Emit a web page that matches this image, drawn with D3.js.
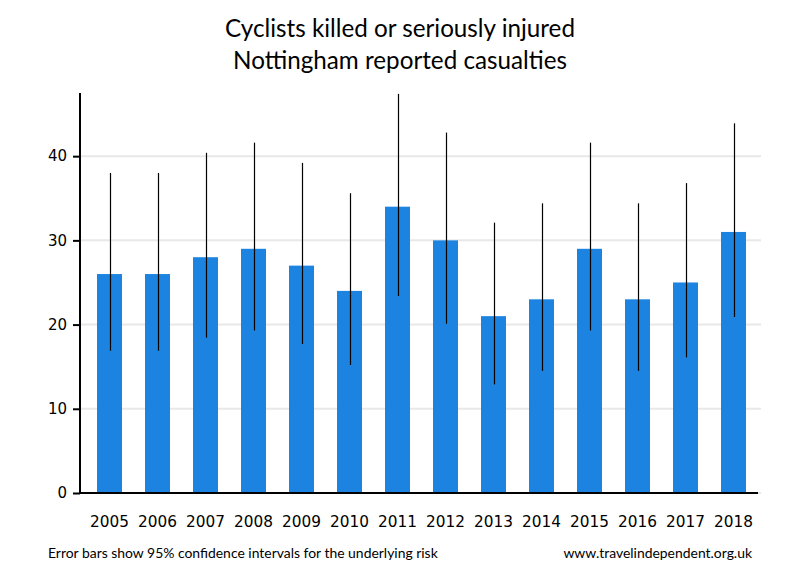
<!DOCTYPE html>
<html><head><meta charset="utf-8">
<script src="https://cdn.jsdelivr.net/npm/d3@7"></script>
<style>body{margin:0;background:#fff}svg{display:block}</style>
</head><body>
<svg id="chart" width="800" height="580"></svg>
<script>
const years = ["2005","2006","2007","2008","2009","2010","2011","2012","2013","2014","2015","2016","2017","2018"];
const casualties = [26,26,28,29,27,24,34,30,21,23,29,23,25,31];
const ciLower = [16.9,16.9,18.45,19.3,17.7,15.2,23.4,20.1,12.9,14.5,19.3,14.5,16.1,20.9];
const ciUpper = [38.0,38.0,40.4,41.6,39.2,35.6,47.4,42.8,32.1,34.4,41.6,34.4,36.8,43.9];
const yTicks = [0,10,20,30,40];
const titleLines = ["Cyclists killed or seriously injured","Nottingham reported casualties"];
const footLeft = "Error bars show 95% confidence intervals for the underlying risk";
const footRight = "www.travelindependent.org.uk";

const svg = d3.select("#chart");
const font = "Lato, 'Open Sans', sans-serif";

const x = d3.scaleBand().domain(years).range([80, 763]).paddingInner(23/48).paddingOuter(17/48);
const y = d3.scaleLinear().domain([0, 47.5]).range([493, 93]);

// gridlines
svg.append("g").selectAll("line").data(yTicks).join("line")
  .attr("x1", 80).attr("x2", 761)
  .attr("y1", d => y(d)).attr("y2", d => y(d))
  .attr("stroke", "#e8e8e8").attr("stroke-width", 2);

// bars
svg.append("g").selectAll("rect").data(years).join("rect")
  .attr("x", d => x(d)).attr("width", x.bandwidth())
  .attr("y", (d,i) => y(casualties[i])).attr("height", (d,i) => y(0) - y(casualties[i]))
  .attr("fill", "#1c83e1");

// error bars
svg.append("g").selectAll("line").data(years).join("line")
  .attr("x1", d => Math.round(x(d) + x.bandwidth()/2) + 0.5)
  .attr("x2", d => Math.round(x(d) + x.bandwidth()/2) + 0.5)
  .attr("y1", (d,i) => y(ciLower[i])).attr("y2", (d,i) => y(ciUpper[i]))
  .attr("stroke", "#000").attr("stroke-width", 1.2);

// y axis
const yAxis = d3.axisLeft(y).tickValues(yTicks).tickSize(7).tickPadding(6);
const gy = svg.append("g").attr("transform", "translate(80,0)").call(yAxis);
gy.select(".domain").remove();
gy.selectAll(".tick line").attr("stroke", "#000").attr("stroke-width", 2);
gy.selectAll(".tick text").attr("font-family", "'DejaVu Sans', sans-serif").attr("font-size", 15).attr("fill", "#000");
svg.append("line").attr("x1", 80).attr("x2", 80).attr("y1", 93).attr("y2", 494)
  .attr("stroke", "#000").attr("stroke-width", 2);

// x axis
const xAxis = d3.axisBottom(x).tickSize(0).tickPadding(23);
const gx = svg.append("g").attr("transform", "translate(0,493)").call(xAxis);
gx.select(".domain").remove();
gx.selectAll(".tick text").attr("font-family", "'DejaVu Sans', sans-serif").attr("font-size", 15.3).attr("fill", "#000");
svg.append("line").attr("x1", 79).attr("x2", 758).attr("y1", 493).attr("y2", 493)
  .attr("stroke", "#000").attr("stroke-width", 2);

function fitText(sel, target) {
  const n = sel.node();
  const fs = parseFloat(sel.attr("font-size"));
  const w = n.getComputedTextLength();
  if (w > 0) sel.attr("font-size", fs * target / w);
}

// title
const t1 = svg.append("text").attr("x", 400).attr("y", 37).attr("text-anchor", "middle")
  .attr("font-family", font).attr("font-size", 24).attr("fill", "#000").text(titleLines[0]);
fitText(t1, 350);
const t2 = svg.append("text").attr("x", 400).attr("y", 69).attr("text-anchor", "middle")
  .attr("font-family", font).attr("font-size", 24).attr("fill", "#000").text(titleLines[1]);
t2.attr("font-size", t1.attr("font-size"));

// footers
const f1 = svg.append("text").attr("x", 48).attr("y", 558)
  .attr("font-family", font).attr("font-size", 13).attr("fill", "#000").text(footLeft);
fitText(f1, 390);
const f2 = svg.append("text").attr("x", 752).attr("y", 558).attr("text-anchor", "end")
  .attr("font-family", font).attr("font-size", 13).attr("fill", "#000").text(footRight);
f2.attr("font-size", f1.attr("font-size"));
</script>
</body></html>
